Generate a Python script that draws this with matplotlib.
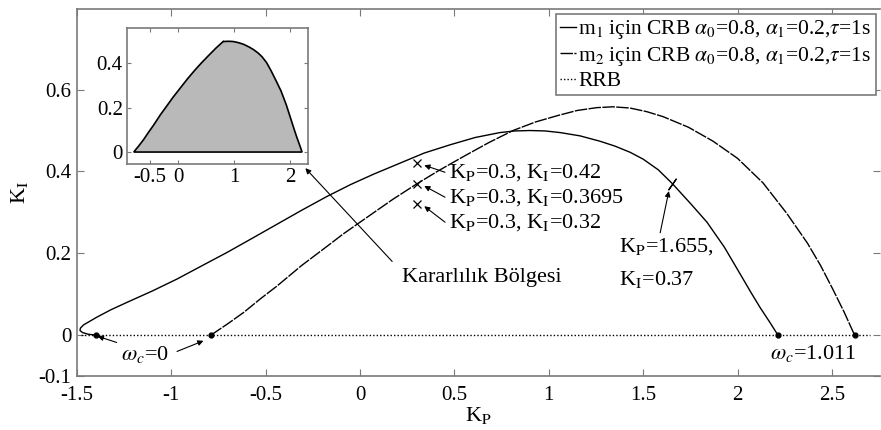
import numpy as np
import matplotlib
matplotlib.use("Agg")
import matplotlib.pyplot as plt

plt.rcParams['font.family'] = ['Liberation Serif', 'DejaVu Serif']
plt.rcParams['mathtext.fontset'] = 'stix'

# ---- data ----
# m1 boundary (starts at omega_c=0 near K_P=-1.40, ends at K_P=2.214)
m1_kp = [-1.400, -1.440, -1.470, -1.484, -1.482, -1.465, -1.435, -1.394, -1.320,
         -1.235, -1.100, -0.970, -0.840, -0.705, -0.570, -0.440, -0.310, -0.175,
         -0.050, 0.070, 0.210, 0.340, 0.476, 0.610, 0.741, 0.820, 0.900, 0.980,
         1.060, 1.165, 1.270, 1.350, 1.430, 1.500, 1.580, 1.655, 1.750, 1.838,
         1.930, 2.013, 2.070, 2.120, 2.170, 2.214]
m1_ki = [0.000, 0.002, 0.006, 0.011, 0.017, 0.025, 0.033, 0.044, 0.062,
         0.080, 0.108, 0.137, 0.169, 0.202, 0.237, 0.271, 0.305, 0.339,
         0.368, 0.393, 0.420, 0.445, 0.465, 0.483, 0.495, 0.499, 0.500, 0.499,
         0.495, 0.487, 0.474, 0.462, 0.447, 0.430, 0.404, 0.370, 0.322, 0.276,
         0.215, 0.150, 0.105, 0.067, 0.032, 0.000]
# m2 boundary (starts at omega_c=0 near K_P=-0.79, ends at K_P=2.62)
m2_kp = [-0.790, -0.700, -0.615, -0.530, -0.440, -0.310, -0.175, -0.090, 0.000,
         0.090, 0.174, 0.300, 0.420, 0.550, 0.680, 0.810, 0.930, 1.050, 1.150,
         1.255, 1.340, 1.430, 1.520, 1.605, 1.740, 1.870, 2.000, 2.135, 2.260,
         2.370, 2.440, 2.505, 2.565, 2.620]
m2_ki = [0.000, 0.028, 0.056, 0.088, 0.120, 0.170, 0.217, 0.247, 0.276,
         0.305, 0.332, 0.3695, 0.403, 0.437, 0.470, 0.500, 0.521, 0.537, 0.549,
         0.556, 0.558, 0.555, 0.546, 0.534, 0.508, 0.474, 0.432, 0.372, 0.298,
         0.225, 0.170, 0.112, 0.056, 0.000]
rrb_kp = [-1.48, 2.70]
rrb_ki = [0.0, 0.0]
cross_kp = 0.81  # where the two boundaries cross
test_kp = [0.3, 0.3, 0.3]
test_ki = [0.42, 0.3695, 0.32]
test_labels = [r'K$_\mathrm{P}$=0.3, K$_\mathrm{I}$=0.42',
               r'K$_\mathrm{P}$=0.3, K$_\mathrm{I}$=0.3695',
               r'K$_\mathrm{P}$=0.3, K$_\mathrm{I}$=0.32']
mark_kp, mark_ki = 1.655, 0.37
legend_labels = [r'm$_1$ için CRB $\alpha_0$=0.8, $\alpha_1$=0.2,$\tau$=1s',
                 r'm$_2$ için CRB $\alpha_0$=0.8, $\alpha_1$=0.2,$\tau$=1s',
                 'RRB']
xticks = [-1.5, -1, -0.5, 0, 0.5, 1, 1.5, 2, 2.5]
xticklabels = ['-1.5', '-1', '-0.5', '0', '0.5', '1', '1.5', '2', '2.5']
yticks = [-0.1, 0, 0.2, 0.4, 0.6]
yticklabels = ['-0.1', '0', '0.2', '0.4', '0.6']
in_xticks = [-0.5, 0, 1, 2]
in_xticklabels = ['-0.5', '0', '1', '2']
in_yticks = [0, 0.2, 0.4]
in_yticklabels = ['0', '0.2', '0.4']

spine_c = '#7a7a7a'
fig = plt.figure(figsize=(8.81, 4.30), dpi=100)
ax = fig.add_axes([0.0874, 0.1256, 0.9115, 0.8534])

l1, = ax.plot(m1_kp, m1_ki, color='black', lw=1.0)
l2, = ax.plot(m2_kp, m2_ki, color='black', lw=1.0, dashes=(9, 1.0))
l3, = ax.plot(rrb_kp, rrb_ki, color='black', lw=1.0, ls=(0, (1, 1.5)))
ends_x = [m1_kp[0], m1_kp[-1], m2_kp[0], m2_kp[-1]]
ends_y = [m1_ki[0], m1_ki[-1], m2_ki[0], m2_ki[-1]]
ax.plot(ends_x, ends_y, 'o', color='black', ms=3.5)
ax.plot(test_kp, test_ki, 'x', color='black', ms=6, mew=0.9)
ax.plot([mark_kp], [mark_ki], marker=(2, 2, -35), color='black', ms=10, mew=0.9)

ax.set_xlim(-1.5, 2.755)
ax.set_ylim(-0.1, 0.797)
ax.set_xticks(xticks)
ax.set_xticklabels(xticklabels)
ax.set_yticks(yticks)
ax.set_yticklabels(yticklabels)
ax.tick_params(direction='in', length=5, width=0.8, color=spine_c, labelsize=15,
               top=True, right=True, pad=4)
ax.tick_params(axis='x', pad=7)
for s in ax.spines.values():
    s.set_color(spine_c)
    s.set_linewidth(1.2)
ax.spines['right'].set_visible(False)
ax.set_xlabel(r'K$_\mathrm{P}$', fontsize=16, labelpad=0)
ax.set_ylabel(r'K$_\mathrm{I}$', fontsize=16, labelpad=6)

leg = ax.legend([l1, l2, l3], legend_labels,
                loc='upper right', bbox_to_anchor=(0.995, 0.987), borderaxespad=0,
                fontsize=15.5, handlelength=0.75, handletextpad=0.1,
                labelspacing=0.16, borderpad=0.2, fancybox=False, framealpha=1,
                edgecolor=spine_c)
leg.get_frame().set_linewidth(1.2)

arw = dict(arrowstyle='-|>', color='black', lw=0.8, mutation_scale=8,
           shrinkA=0, shrinkB=0)
fs = 16
# omega_c = 0
ax.text(-1.14, -0.048, r'$\omega_c$=0', fontsize=fs, ha='center', va='center')
ax.annotate('', xy=(m1_kp[0] + 0.01, -0.003), xytext=(-1.29, -0.018), arrowprops=arw)
ax.annotate('', xy=(-0.83, -0.014), xytext=(-0.97, -0.040), arrowprops=arw)
# omega_c = 1.011
ax.text(2.40, -0.046, r'$\omega_c$=1.011', fontsize=fs, ha='center', va='center')
# test points
for yk, yt, lab in zip(test_ki, [0.398, 0.337, 0.276], test_labels):
    ax.text(0.47, yt, lab, fontsize=fs, ha='left', va='center')
    ax.annotate('', xy=(0.34, yk - 0.005), xytext=(0.45, yt), arrowprops=arw)
# marked point
ax.text(1.37, 0.217, r'K$_\mathrm{P}$=1.655,', fontsize=fs, ha='left', va='center')
ax.text(1.37, 0.137, r'K$_\mathrm{I}$=0.37', fontsize=fs, ha='left', va='center')
ax.annotate('', xy=(1.636, 0.352), xytext=(1.59, 0.25), arrowprops=arw)
# stability region label
ax.text(0.646, 0.141, 'Kararlılık Bölgesi', fontsize=fs, ha='center', va='center')
ax.annotate('', xy=(-0.29, 0.408), xytext=(0.17, 0.18), arrowprops=arw)

# ---- inset with the stability region ----
ins = fig.add_axes([0.1442, 0.6186, 0.2054, 0.3163])
m1x = np.array(m1_kp); m1y = np.array(m1_ki)
m2x = np.array(m2_kp); m2y = np.array(m2_ki)
left_mask = m2x <= cross_kp
right_mask = (m1x > cross_kp) & (np.arange(len(m1x)) > 8)
reg_x = np.concatenate([m2x[left_mask], m1x[right_mask]])
reg_y = np.concatenate([m2y[left_mask], m1y[right_mask]])
ins.fill(reg_x, reg_y, facecolor='#b9b9b9', edgecolor='black', lw=1.2)
ins.set_xlim(-0.91, 2.32)
ins.set_ylim(-0.054, 0.56)
ins.set_xticks(in_xticks)
ins.set_xticklabels(in_xticklabels)
ins.set_yticks(in_yticks)
ins.set_yticklabels(in_yticklabels)
ins.tick_params(direction='in', length=3, width=0.8, color=spine_c, labelsize=15,
                top=True, right=True, pad=3)
for s in ins.spines.values():
    s.set_color(spine_c)
    s.set_linewidth(1.2)

fig.savefig('out.png', dpi=100)
